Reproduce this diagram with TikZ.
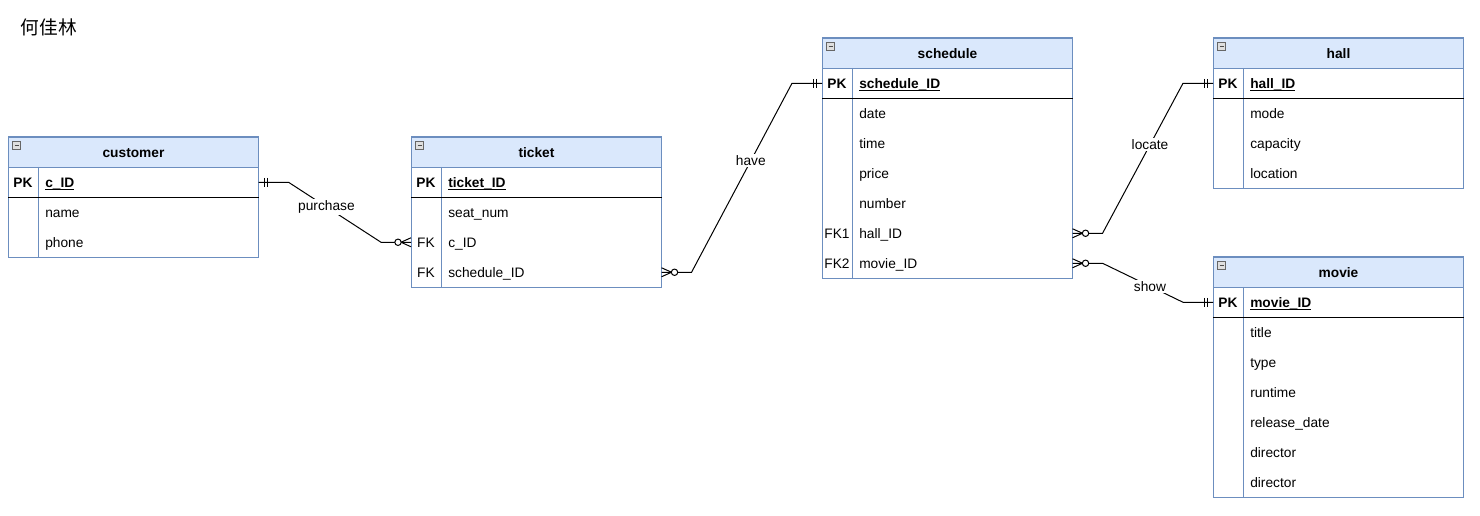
\documentclass[tikz,border=0pt]{standalone}
\usepackage{fontspec}
\setmainfont{Liberation Sans}
\newfontfamily\cjk{Noto Sans CJK SC}
\usetikzlibrary{calc}

\definecolor{hdrfill}{HTML}{DAE8FC}
\definecolor{hdrline}{HTML}{6C8EBF}

% underline that sits at the height of the underscore
\newcommand{\keyul}[1]{\setbox0\hbox{#1}\rlap{\rule[-2.1pt]{\wd0}{0.65pt}}\box0}

\tikzset{
  txt/.style={font=\fontsize{10.3}{12}\selectfont},
  tbltitle/.style={font=\fontsize{10.3}{12}\selectfont\bfseries, anchor=base, inner sep=0pt},
  rowtext/.style={txt, anchor=base west, inner sep=0pt},
  keytext/.style={txt, anchor=base, inner sep=0pt},
  rowbox/.style={minimum width=187.5pt, minimum height=22.5pt, inner sep=0pt, anchor=north west},
  rel/.style={draw=black, line width=0.75pt},
  tblline/.style={draw=hdrline, line width=0.75pt},
  rellabel/.style={txt, fill=white, inner sep=1pt, pos=0.41},
}

% entity table: name, left, top, title, primary key field, further rows key/field
\newcommand{\ertable}[6]{%
  \node[rowbox, fill=hdrfill, tblline] (#1) at (#2,#3) {};
  \node[tbltitle] (#1-title) at ($(#1.center)+(0,5.2)$) {#4};
  \draw[fill=gray!25, draw=gray!80!black, line width=0.5pt]
    ($(#1.north west)+(4.5,4.5)$) rectangle ++(8,8);
  \draw[line width=1pt, black!70] ($(#1.north west)+(6.5,8.5)$) -- ++(4,0);
  \node[rowbox] (#1-r1) at (#2,#3+30) {};
  \node[keytext, font=\fontsize{10.3}{12}\selectfont\bfseries] (#1-k1) at ($(#1-r1.west)+(15,5.2)$) {PK};
  \node[rowtext, font=\fontsize{10.3}{12}\selectfont\bfseries] (#1-f1) at ($(#1-r1.west)+(37,5.2)$) {\keyul{#5}};
  \foreach [count=\i from 2] \k/\f in {#6} {
    \node[rowbox] (#1-r\i) at (#2,#3+30*\i) {};
    \node[keytext] (#1-k\i) at ($(#1-r\i.west)+(15,5.2)$) {\k};
    \node[rowtext] (#1-f\i) at ($(#1-r\i.west)+(37,5.2)$) {\f};
    \xdef\lastrow{\i}
  }
  \draw[tblline] ($(#1-r1.north west)+(30,0)$) -- ($(#1-r\lastrow.south west)+(30,0)$);
  \draw[tblline] (#1.north west) rectangle (#1-r\lastrow.south east);
  \draw[rel] (#1-r1.south west) -- (#1-r1.south east);
}

% "exactly one" end: two bars
\newcommand{\mandone}[2]{%
  \draw[rel] ($(#1)+(#2*6,-4.5)$) -- ++(0,9);
  \draw[rel] ($(#1)+(#2*9,-4.5)$) -- ++(0,9);}
% "zero or many" end: crow's foot and circle
\newcommand{\zeromany}[2]{%
  \draw[rel] ($(#1)+(0,-4.5)$) -- ($(#1)+(#2*10,0)$) -- ($(#1)+(0,4.5)$);
  \draw[rel, fill=white] ($(#1)+(#2*13,0)$) circle[radius=2.4pt];}

\begin{document}
\begin{tikzpicture}[x=0.75pt, y=-0.75pt]
\useasboundingbox (0,0) rectangle (1480,516);

\node[font=\cjk\fontsize{14}{16}\selectfont, anchor=west, inner sep=0pt] (author) at (20.5,27.5) {何佳林};

\ertable{customer}{8}{137}{customer}{c\_ID}{/name, /phone}
\ertable{ticket}{411}{137}{ticket}{ticket\_ID}{/seat\_num, FK/c\_ID, FK/schedule\_ID}
\ertable{schedule}{822}{38}{schedule}{schedule\_ID}{/date, /time, /price, /number, FK1/hall\_ID, FK2/movie\_ID}
\ertable{hall}{1213}{38}{hall}{hall\_ID}{/mode, /capacity, /location}
\ertable{movie}{1213}{257}{movie}{movie\_ID}{/title, /type, /runtime, /release\_date, /director, /director}

% relationships
\draw[rel] (customer-r1.east) -- ++(30,0)
  -- node[rellabel] {purchase} ($(ticket-r3.west)+(-30,0)$) -- (ticket-r3.west);
\draw[rel] (schedule-r1.west) -- ++(-30,0)
  -- node[rellabel] {have} ($(ticket-r4.east)+(30,0)$) -- (ticket-r4.east);
\draw[rel] (hall-r1.west) -- ++(-30,0)
  -- node[rellabel] {locate} ($(schedule-r6.east)+(30,0)$) -- (schedule-r6.east);
\draw[rel] (movie-r1.west) -- ++(-30,0)
  -- node[rellabel] {show} ($(schedule-r7.east)+(30,0)$) -- (schedule-r7.east);

\mandone{customer-r1.east}{1}
\mandone{schedule-r1.west}{-1}
\mandone{hall-r1.west}{-1}
\mandone{movie-r1.west}{-1}
\zeromany{ticket-r3.west}{-1}
\zeromany{ticket-r4.east}{1}
\zeromany{schedule-r6.east}{1}
\zeromany{schedule-r7.east}{1}
\end{tikzpicture}
\end{document}
